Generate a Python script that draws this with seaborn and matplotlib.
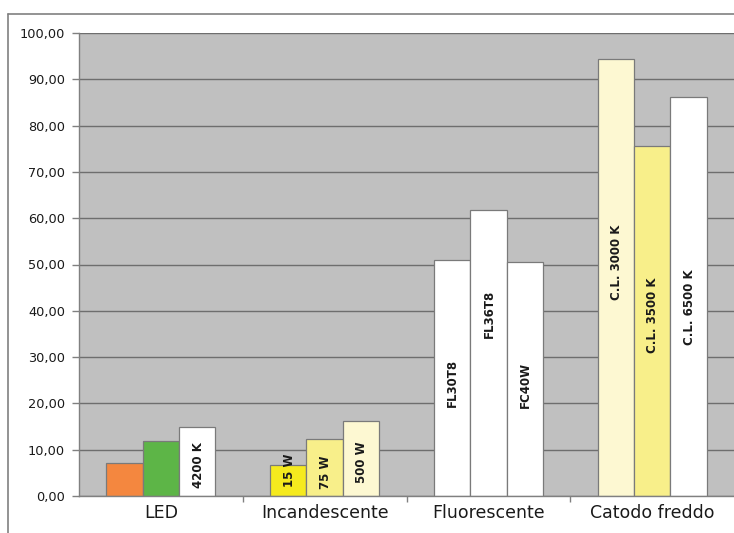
import matplotlib
matplotlib.use("Agg")
import matplotlib.pyplot as plt
import matplotlib.ticker as mticker
from matplotlib.lines import Line2D
import seaborn as sns
import pandas as pd

# ---- data ----
categories = ["LED", "Incandescente", "Fluorescente", "Catodo freddo"]
led_values = [7.1, 11.9, 15.0]
incandescente_values = [6.7, 12.3, 16.3]
fluorescente_values = [51.0, 61.8, 50.6]
catodo_values = [94.3, 75.6, 86.1]
led_labels = ["", "", "4200 K"]
incandescente_labels = ["15 W", "75 W", "500 W"]
fluorescente_labels = ["FL30T8", "FL36T8", "FC40W"]
catodo_labels = ["C.L. 3000 K", "C.L. 3500 K", "C.L. 6500 K"]

# ---- styling / placement ----
group_colors = [
    ["#F4873F", "#5DB547", "#FFFFFF"],
    ["#F5EA1E", "#F8EF8A", "#FDF8D2"],
    ["#FFFFFF", "#FFFFFF", "#FFFFFF"],
    ["#FDF8D2", "#F8EF8A", "#FFFFFF"],
]
# vertical centre of each in-bar label (data units)
label_centres = [
    [None, None, 6.7],
    [5.6, 5.2, 7.3],
    [24.4, 39.3, 24.0],
    [50.5, 39.0, 40.8],
]

all_values = [led_values, incandescente_values, fluorescente_values, catodo_values]
all_labels = [led_labels, incandescente_labels, fluorescente_labels, catodo_labels]

rows = []
for c, vals, labs in zip(categories, all_values, all_labels):
    for i, (v, l) in enumerate(zip(vals, labs)):
        rows.append({"cat": c, "slot": i, "val": v, "label": l})
df = pd.DataFrame(rows)

sns.set_style("white")
plt.rcParams["font.family"] = ["DejaVu Sans"]

fig = plt.figure(figsize=(7.34, 5.33), dpi=100)
ax = fig.add_axes([79 / 734, 1 - 496 / 533, 1 - 79 / 734, (496 - 33) / 533])
ax.set_facecolor("#C0C0C0")

sns.barplot(data=df, x="cat", y="val", hue="slot", order=categories,
            hue_order=[0, 1, 2], width=0.667, dodge=True,
            palette=["#FFFFFF"] * 3, edgecolor="#7A7A7A", linewidth=0.9,
            legend=False, ax=ax, errorbar=None, zorder=3)

# recolour bars per group and add labels
bars = [p for p in ax.patches]
# seaborn orders patches by hue level, then category
idx = 0
for slot in range(3):
    for gi in range(len(categories)):
        p = bars[idx]
        idx += 1
        p.set_facecolor(group_colors[gi][slot])
        p.set_zorder(3)
        lab = all_labels[gi][slot]
        if lab:
            xc = p.get_x() + p.get_width() / 2
            ax.text(xc + 0.005, label_centres[gi][slot], lab, rotation=90,
                    ha="center", va="center", fontsize=8.5, fontweight="bold",
                    color="#1A1A1A", zorder=5)

ax.set_xlim(-0.5, 3.5)
ax.set_ylim(0, 100)
ax.yaxis.set_major_locator(mticker.MultipleLocator(10))
ax.yaxis.set_major_formatter(mticker.FuncFormatter(lambda v, p: f"{v:.2f}".replace(".", ",")))
ax.grid(axis="y", color="#6E6E6E", linewidth=1.0, zorder=0)
ax.set_axisbelow(True)
ax.set_xlabel("")
ax.set_ylabel("")

for s in ["top", "right"]:
    ax.spines[s].set_visible(False)
for s in ["left", "bottom"]:
    ax.spines[s].set_color("#808080")
    ax.spines[s].set_linewidth(1.0)
    ax.spines[s].set_zorder(4)

ax.tick_params(axis="y", length=5, width=1, color="#808080", labelsize=9.3,
               labelcolor="#1A1A1A", pad=5, left=True)
ax.tick_params(axis="x", length=0, labelsize=12.5, labelcolor="#1A1A1A", pad=6)
ax.set_xticks(range(len(categories)))
ax.set_xticklabels(categories)
ax.xaxis.set_minor_locator(mticker.FixedLocator([0.5, 1.5, 2.5]))
ax.tick_params(axis="x", which="minor", length=4, width=1, color="#808080", bottom=True)

# outer chart frame
fig.add_artist(Line2D([7.5 / 734, 7.5 / 734], [0, 1 - 13.5 / 533], color="#808080",
                      linewidth=1.2, transform=fig.transFigure))
fig.add_artist(Line2D([7.5 / 734, 1], [1 - 13.5 / 533, 1 - 13.5 / 533], color="#808080",
                      linewidth=1.2, transform=fig.transFigure))

fig.savefig("out.png", dpi=100, facecolor="white")
